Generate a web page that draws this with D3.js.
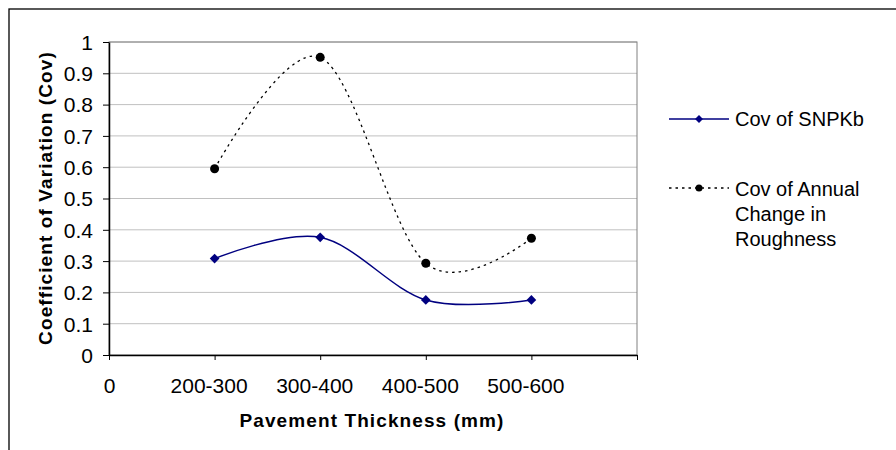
<!DOCTYPE html>
<html>
<head>
<meta charset="utf-8">
<script src="https://cdn.jsdelivr.net/npm/d3@7"></script>
<style>
    body { margin: 0; background: #fff; }
    svg { font-family: "Liberation Sans", Arial, sans-serif; }
</style>
</head>
<body>
<svg width="896" height="450"></svg>
<script>
var xPositions = [1, 2, 3, 4];
var xTickValues = [0, 1, 2, 3, 4, 5];
var xTickLabels = ["0", "200-300", "300-400", "400-500", "500-600", ""];
var yTickValues = [0, 0.1, 0.2, 0.3, 0.4, 0.5, 0.6, 0.7, 0.8, 0.9, 1];
var covSnpkb = [0.308, 0.376, 0.176, 0.176];
var covRoughness = [0.595, 0.951, 0.293, 0.373];
var seriesNames = ["Cov of SNPKb", "Cov of Annual Change in Roughness"];

var svg = d3.select("svg"),
    margin = {top: 42, right: 259, bottom: 95, left: 109},
    width = +svg.attr("width") - margin.left - margin.right,
    height = +svg.attr("height") - margin.top - margin.bottom;

// outer chart frame (runs past the right and bottom edges)
svg
    .append("rect")
    .attr("x", 9)
    .attr("y", 9)
    .attr("width", 920)
    .attr("height", 480)
    .attr("fill", "none")
    .attr("stroke", "#000")
    .attr("stroke-width", 1.3);

var x = d3.scaleLinear()
        .domain([0, 5])
        .range([0, width]),
    y = d3.scaleLinear()
        .domain([0, 1])
        .range([height, 0]);

var g = svg
    .append("g")
    .attr("transform", "translate(" + margin.left + "," + margin.top + ")");

// gridlines
g
    .selectAll(".grid")
    .data(yTickValues.slice(1))
    .enter()
    .append("line")
    .attr("class", "grid")
    .attr("x1", 0)
    .attr("x2", width)
    .attr("y1", function (d) { return y(d); })
    .attr("y2", function (d) { return y(d); })
    .attr("stroke", "#c0c0c0")
    .attr("stroke-width", 1);

// plot area border
g
    .append("rect")
    .attr("width", width)
    .attr("height", height)
    .attr("fill", "none")
    .attr("stroke", "#808080")
    .attr("stroke-width", 1);

var xAxis = g
    .append("g")
    .attr("transform", "translate(0," + height + ")")
    .call(d3.axisBottom(x)
        .tickValues(xTickValues)
        .tickFormat(function (d, i) { return xTickLabels[i]; })
        .tickSize(5)
        .tickSizeOuter(0));

xAxis.select(".domain").attr("stroke", "#000").attr("stroke-width", 1.5);
xAxis.selectAll(".tick line").attr("stroke", "#000");
xAxis
    .selectAll("text")
    .attr("y", 38)
    .attr("dy", 0)
    .attr("dx", function (d) { return d === 0 ? 0 : -6; })
    .attr("fill", "#000")
    .style("font-size", "21px")
    .style("font-family", "Liberation Sans, Arial, sans-serif");

var yAxis = g
    .append("g")
    .call(d3.axisLeft(y)
        .tickValues(yTickValues)
        .tickFormat(d3.format("~g"))
        .tickSize(6)
        .tickSizeOuter(0));

yAxis.select(".domain").attr("stroke", "#000").attr("stroke-width", 1.5);
yAxis.selectAll(".tick line").attr("stroke", "#000");
yAxis
    .selectAll("text")
    .attr("x", -16)
    .attr("dy", "0.35em")
    .attr("fill", "#000")
    .style("font-size", "21px")
    .style("font-family", "Liberation Sans, Arial, sans-serif");

// axis titles
svg
    .append("text")
    .attr("x", 372)
    .attr("y", 427)
    .attr("text-anchor", "middle")
    .attr("font-weight", "bold")
    .attr("font-size", 19)
    .attr("letter-spacing", 1.1)
    .text("Pavement Thickness (mm)");

svg
    .append("text")
    .attr("transform", "translate(52,198) rotate(-90)")
    .attr("text-anchor", "middle")
    .attr("font-weight", "bold")
    .attr("font-size", 19)
    .attr("letter-spacing", 1.1)
    .text("Coefficient of Variation (Cov)");

// smoothed lines
var line = function (values) {
    return d3.line()
        .x(function (d, i) { return x(xPositions[i]); })
        .y(function (d) { return y(d); })
        .curve(d3.curveCardinal.tension(0))(values);
};

g
    .append("path")
    .attr("d", line(covRoughness))
    .attr("fill", "none")
    .attr("stroke", "#000")
    .attr("stroke-width", 1.3)
    .attr("stroke-dasharray", "2.5,4");

g
    .append("path")
    .attr("d", line(covSnpkb))
    .attr("fill", "none")
    .attr("stroke", "#000080")
    .attr("stroke-width", 1.5);

g
    .selectAll(".dot")
    .data(covRoughness)
    .enter()
    .append("circle")
    .attr("class", "dot")
    .attr("cx", function (d, i) { return x(xPositions[i]); })
    .attr("cy", function (d) { return y(d); })
    .attr("r", 4.5)
    .attr("fill", "#000");

var diamond = d3.symbol().type(d3.symbolDiamond2).size(60);

g
    .selectAll(".diamond")
    .data(covSnpkb)
    .enter()
    .append("path")
    .attr("class", "diamond")
    .attr("d", diamond)
    .attr("transform", function (d, i) {
        return "translate(" + x(xPositions[i]) + "," + y(d) + ")";
    })
    .attr("fill", "#000080");

// legend
var legend = svg.append("g").attr("font-size", 20);

legend
    .append("line")
    .attr("x1", 669).attr("x2", 729)
    .attr("y1", 119).attr("y2", 119)
    .attr("stroke", "#000080")
    .attr("stroke-width", 1.5);
legend
    .append("path")
    .attr("d", d3.symbol().type(d3.symbolDiamond2).size(40))
    .attr("transform", "translate(699,119)")
    .attr("fill", "#000080");
legend
    .append("text")
    .attr("x", 735)
    .attr("y", 126)
    .text(seriesNames[0]);

legend
    .append("line")
    .attr("x1", 669).attr("x2", 729)
    .attr("y1", 188).attr("y2", 188)
    .attr("stroke", "#000")
    .attr("stroke-width", 1.3)
    .attr("stroke-dasharray", "2.5,4");
legend
    .append("circle")
    .attr("cx", 699)
    .attr("cy", 188)
    .attr("r", 3.5)
    .attr("fill", "#000");
legend
    .append("text")
    .selectAll("tspan")
    .data(["Cov of Annual", "Change in", "Roughness"])
    .enter()
    .append("tspan")
    .attr("x", 735)
    .attr("y", function (d, i) { return 196 + i * 25; })
    .text(function (d) { return d; });
</script>
</body>
</html>
